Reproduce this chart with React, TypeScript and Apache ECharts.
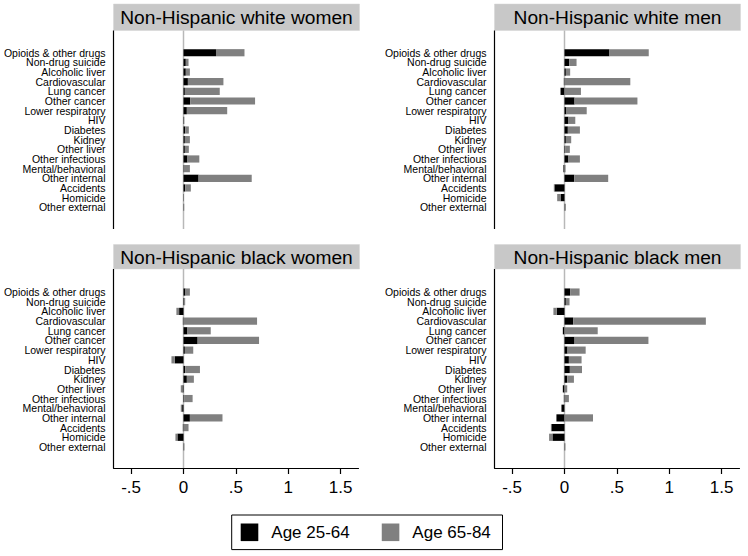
import React, { useEffect, useRef } from "react";
import * as echarts from "echarts";

const categories = [
  "Opioids & other drugs",
  "Non-drug suicide",
  "Alcoholic liver",
  "Cardiovascular",
  "Lung cancer",
  "Other cancer",
  "Lower respiratory",
  "HIV",
  "Diabetes",
  "Kidney",
  "Other liver",
  "Other infectious",
  "Mental/behavioral",
  "Other internal",
  "Accidents",
  "Homicide",
  "Other external",
];

const panelTitles = [
  "Non-Hispanic white women",
  "Non-Hispanic white men",
  "Non-Hispanic black women",
  "Non-Hispanic black men",
];

const seriesNames = ["Age 25-64", "Age 65-84"];

// Age 25-64 contribution (black) and Age 65-84 contribution (gray, stacked)
const whiteWomenYoung = [0.31, 0.022, 0.022, 0.042, 0.013, 0.064, 0.032, 0.004, 0.016, 0.013, 0.013, 0.038, -0.004, 0.144, 0.016, -0.003, 0.003];
const whiteWomenOld = [0.272, 0.026, 0.039, 0.339, 0.333, 0.619, 0.385, 0.004, 0.035, 0.048, 0.038, 0.113, 0.061, 0.507, 0.054, 0.004, 0.004];

const whiteMenYoung = [0.429, 0.045, 0.013, -0.006, -0.038, 0.096, 0.019, 0.038, 0.032, 0.013, 0.006, 0.038, -0.01, 0.093, -0.096, -0.038, 0.003];
const whiteMenOld = [0.375, 0.07, 0.041, 0.628, 0.157, 0.6, 0.193, 0.065, 0.115, 0.051, 0.045, 0.109, 0.01, 0.324, -0.006, -0.032, 0.01];

const blackWomenYoung = [0.019, 0.006, -0.042, -0.006, 0.038, 0.135, 0.013, -0.083, 0.016, 0.032, -0.01, 0.006, -0.013, 0.061, -0.006, -0.058, 0.003];
const blackWomenOld = [0.042, 0.01, -0.026, 0.702, 0.222, 0.586, 0.08, -0.032, 0.141, 0.067, -0.016, 0.081, -0.013, 0.311, 0.048, -0.019, 0.006];

const blackMenYoung = [0.054, 0.013, -0.074, 0.083, -0.016, 0.096, 0.029, 0.042, 0.051, 0.026, -0.016, -0.006, -0.029, -0.077, -0.125, -0.115, 0.003];
const blackMenOld = [0.09, 0.035, -0.032, 1.266, 0.317, 0.705, 0.173, 0.121, 0.116, 0.064, 0.026, 0.042, 0.004, 0.272, -0.005, -0.032, 0.006];

const tickValues = [-0.5, 0, 0.5, 1, 1.5];
const tickLabels = ["-.5", "0", ".5", "1", "1.5"];

const X_MIN = -0.668;
const X_MAX = 1.67;

const FONT = '"Liberation Sans", Arial, Helvetica, sans-serif';

const panelData = [
  [whiteWomenYoung, whiteWomenOld],
  [whiteMenYoung, whiteMenOld],
  [blackWomenYoung, blackWomenOld],
  [blackMenYoung, blackMenOld],
];

// layout (pixels)
const panels = [
  { left: 113.5, rowsTop: 47.9, rowsH: 164.2, axisTop: 30.5, axisBottom: 229, titleY: 4, titleH: 26.5, bottomAxis: false },
  { left: 494.5, rowsTop: 47.9, rowsH: 164.2, axisTop: 30.5, axisBottom: 229, titleY: 4, titleH: 26.5, bottomAxis: false },
  { left: 113.5, rowsTop: 287.2, rowsH: 164.6, axisTop: 269, axisBottom: 468, titleY: 244.5, titleH: 24.5, bottomAxis: true },
  { left: 494.5, rowsTop: 287.2, rowsH: 164.6, axisTop: 269, axisBottom: 468, titleY: 244.5, titleH: 24.5, bottomAxis: true },
];
const PANEL_W = 245;

export default function App() {
  const ref = useRef<HTMLDivElement>(null);

  useEffect(() => {
    document.body.style.margin = "0";
    if (!ref.current) return;
    const chart = echarts.init(ref.current, null, { renderer: "svg" });

    const labelFor = (v: number) => {
      const idx = tickValues.findIndex((t) => Math.abs(t - v) < 1e-9);
      return idx >= 0 ? tickLabels[idx] : "";
    };

    const option: any = {
      animation: false,
      backgroundColor: "#fff",
      textStyle: { fontFamily: FONT },
      grid: panels.map((p) => ({
        left: p.left,
        top: p.rowsTop,
        width: PANEL_W,
        height: p.rowsH,
        containLabel: false,
        outerBoundsMode: "none",
      })),
      xAxis: panels.map((p, i) => ({
        type: "value",
        gridIndex: i,
        min: X_MIN,
        max: X_MAX,
        show: p.bottomAxis,
        offset: p.axisBottom - (p.rowsTop + p.rowsH),
        axisLine: { show: true, lineStyle: { color: "#000", width: 1.2 } },
        axisTick: {
          show: true,
          length: 6,
          inside: false,
          customValues: tickValues,
          lineStyle: { color: "#000", width: 1.2 },
        },
        axisLabel: {
          show: true,
          customValues: tickValues,
          formatter: (v: number) => labelFor(v),
          fontSize: 17,
          color: "#000",
          margin: 11,
          fontFamily: FONT,
        },
        splitLine: { show: false },
      })),
      yAxis: panels.map((p, i) => ({
        type: "category",
        gridIndex: i,
        data: categories,
        inverse: true,
        axisLine: { show: false },
        axisTick: { show: false },
        splitLine: { show: false },
        axisLabel: {
          interval: 0,
          fontSize: 10.5,
          lineHeight: 9.5,
          color: "#000",
          margin: 8,
          fontFamily: FONT,
        },
      })),
      legend: {
        data: seriesNames,
        left: 231.7,
        top: 515,
        orient: "horizontal",
        icon: "rect",
        itemWidth: 17.6,
        itemHeight: 17.6,
        itemGap: 32,
        borderColor: "#000",
        borderWidth: 1,
        padding: [8.5, 11.7, 8.5, 9],
        selectedMode: false,
        textStyle: { fontSize: 17, color: "#000", padding: [0, 0, 0, 8], fontFamily: FONT },
      },
      series: panelData.flatMap((pair, i) => [
        {
          type: "bar",
          name: seriesNames[0],
          xAxisIndex: i,
          yAxisIndex: i,
          stack: "p" + i,
          barWidth: 7.2,
          itemStyle: { color: "#000000" },
          data: pair[0],
          z: 3,
        },
        {
          type: "bar",
          name: seriesNames[1],
          xAxisIndex: i,
          yAxisIndex: i,
          stack: "p" + i,
          barWidth: 7.2,
          itemStyle: { color: "#808080" },
          data: pair[1],
          z: 3,
        },
      ]),
    };

    chart.setOption(option);

    const graphics: any[] = [];
    panels.forEach((p, i) => {
      const zeroX = chart.convertToPixel({ xAxisIndex: i }, 0) as number;
      // title box
      graphics.push({
        type: "rect",
        shape: { x: p.left, y: p.titleY, width: PANEL_W + 1, height: p.titleH },
        style: { fill: "#c8c8c8", stroke: "#d4d4d4", lineWidth: 0.5 },
        z: 0,
      });
      graphics.push({
        type: "text",
        x: p.left + (PANEL_W + 1) / 2,
        y: p.titleY + p.titleH / 2 + 0.5,
        style: {
          text: panelTitles[i],
          fontSize: 19.2,
          fontFamily: FONT,
          fill: "#000",
          align: "center",
          verticalAlign: "middle",
        },
        z: 1,
      });
      // vertical axis line
      graphics.push({
        type: "line",
        shape: { x1: p.left, y1: p.axisTop, x2: p.left, y2: p.axisBottom },
        style: { stroke: "#000", lineWidth: 1.2 },
        z: 1,
      });
      // zero reference line
      graphics.push({
        type: "line",
        shape: { x1: zeroX, y1: p.axisTop, x2: zeroX, y2: p.axisBottom },
        style: { stroke: "#b8b8b8", lineWidth: 1.5 },
        z: 0,
      });
    });

    chart.setOption({ graphic: graphics });

    return () => {
      chart.dispose();
    };
  }, []);

  return <div ref={ref} style={{ width: 748, height: 556 }} />;
}
